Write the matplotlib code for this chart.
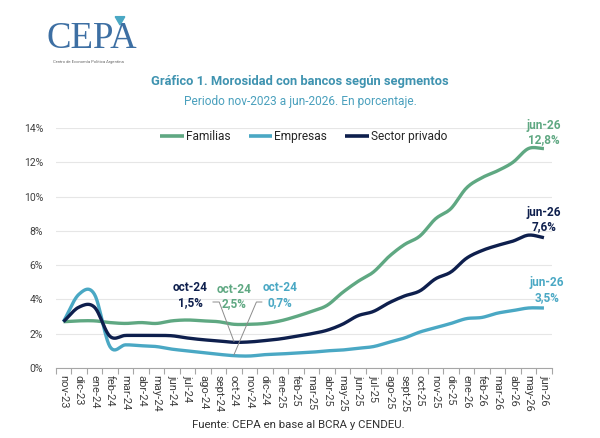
import numpy as np
import matplotlib
matplotlib.use("Agg")
import matplotlib.pyplot as plt

plt.rcParams['font.family'] = ['Roboto', 'DejaVu Sans']

months = ["nov-23", "dic-23", "ene-24", "feb-24", "mar-24", "abr-24", "may-24", "jun-24",
          "jul-24", "ago-24", "sept-24", "oct-24", "nov-24", "dic-24", "ene-25", "feb-25",
          "mar-25", "abr-25", "may-25", "jun-25", "jul-25", "ago-25", "sept-25", "oct-25",
          "nov-25", "dic-25", "ene-26", "feb-26", "mar-26", "abr-26", "may-26", "jun-26"]

familias = [2.7, 2.75, 2.75, 2.65, 2.6, 2.65, 2.6, 2.75, 2.8, 2.75, 2.7, 2.55, 2.55, 2.6,
            2.75, 3.0, 3.3, 3.65, 4.4, 5.05, 5.6, 6.5, 7.2, 7.7, 8.7, 9.3, 10.5, 11.1,
            11.5, 12.0, 12.8, 12.8]
empresas = [2.7, 4.3, 4.3, 1.25, 1.35, 1.3, 1.25, 1.1, 1.0, 0.9, 0.8, 0.72, 0.7, 0.78,
            0.82, 0.87, 0.92, 1.0, 1.05, 1.15, 1.25, 1.5, 1.75, 2.1, 2.35, 2.6, 2.88,
            2.95, 3.2, 3.35, 3.5, 3.5]
privado = [2.7, 3.55, 3.55, 1.85, 1.9, 1.9, 1.9, 1.88, 1.75, 1.65, 1.58, 1.5, 1.52, 1.6,
           1.7, 1.85, 2.0, 2.2, 2.55, 3.05, 3.3, 3.8, 4.2, 4.5, 5.2, 5.6, 6.4, 6.85,
           7.15, 7.4, 7.75, 7.6]

series_names = ["Familias", "Empresas", "Sector privado"]
yticks = [0, 2, 4, 6, 8, 10, 12, 14]

C_FAM = "#5fa882"
C_EMP = "#4aa8c4"
C_PRI = "#0e1f4d"


def smooth(y, n=12):
    """Catmull-Rom rendering of a series (Excel-style smoothed line)."""
    y = np.asarray(y, dtype=float)
    x = np.arange(len(y), dtype=float)
    p = np.concatenate([[2 * y[0] - y[1]], y, [2 * y[-1] - y[-2]]])
    xs, ys = [], []
    for i in range(len(y) - 1):
        p0, p1, p2, p3 = p[i], p[i + 1], p[i + 2], p[i + 3]
        t = np.linspace(0, 1, n, endpoint=False)
        v = 0.5 * ((2 * p1) + (-p0 + p2) * t + (2 * p0 - 5 * p1 + 4 * p2 - p3) * t ** 2
                   + (-p0 + 3 * p1 - 3 * p2 + p3) * t ** 3)
        xs.append(x[i] + t)
        ys.append(v)
    xs.append([x[-1]])
    ys.append([y[-1]])
    return np.concatenate(xs), np.concatenate(ys)


fig = plt.figure(figsize=(6, 4.38), dpi=100)
ax = fig.add_axes([0.0928, 0.1598, 0.8267, 0.548])

x = np.arange(len(months))
for vals, col, name in [(familias, C_FAM, series_names[0]),
                        (empresas, C_EMP, series_names[1]),
                        (privado, C_PRI, series_names[2])]:
    sx, sy = smooth(vals)
    ax.plot(sx, sy, color=col, lw=2.4, label=name, solid_capstyle='butt', zorder=3)

ax.set_xlim(-0.5, len(months) - 0.5)
ax.set_ylim(0, 14)
ax.set_yticks(yticks)
ax.set_yticklabels([f"{v}%" for v in yticks], fontsize=7.5, color="#404040")
ax.tick_params(axis='y', length=0, pad=9)
ax.grid(axis='y', color="#e6e6e6", lw=0.8, zorder=0)
ax.set_axisbelow(True)

ax.set_xticks(x)
ax.set_xticklabels(months, rotation=-90, fontsize=8, color="#404040")
ax.set_xticks(np.arange(-0.5, len(months), 1), minor=True)
ax.tick_params(axis='x', which='major', length=0, pad=5)
ax.tick_params(axis='x', which='minor', length=4, color="#a6a6a6", width=0.8)
for s in ['top', 'right', 'left']:
    ax.spines[s].set_visible(False)
ax.spines['bottom'].set_color("#a6a6a6")
ax.spines['bottom'].set_linewidth(0.8)

leg = ax.legend(loc='upper center', bbox_to_anchor=(0.5, 1.035), ncol=3, frameon=False,
                fontsize=8.6, handlelength=2.0, handletextpad=0.15, columnspacing=1.5,
                labelcolor="#262626")
for h in leg.get_lines():
    h.set_linewidth(2.6)

# oct-24 annotations
i_oct = months.index("oct-24")
ax.text(8.2, 4.25, "oct-24\n1,5%", color=C_PRI, fontsize=8.5, fontweight='bold',
        ha='center', va='center', linespacing=1.15)
ax.text(11.0, 4.15, "oct-24\n2,5%", color=C_FAM, fontsize=8.5, fontweight='bold',
        ha='center', va='center', linespacing=1.15)
ax.text(13.95, 4.25, "oct-24\n0,7%", color=C_EMP, fontsize=8.5, fontweight='bold',
        ha='center', va='center', linespacing=1.15)
ax.plot([9.65, 10.05, i_oct], [3.85, 3.85, privado[i_oct] + 0.05], color="#8c8c8c", lw=0.7, zorder=4)
ax.plot([12.8, 12.45, i_oct], [3.85, 3.85, empresas[i_oct] + 0.05], color="#8c8c8c", lw=0.7, zorder=4)

# jun-26 annotations
ax.text(31.0, 13.75, "jun-26\n12,8%", color=C_FAM, fontsize=8.5, fontweight='bold',
        ha='center', va='center', linespacing=1.15)
ax.text(31.0, 8.65, "jun-26\n7,6%", color=C_PRI, fontsize=8.5, fontweight='bold',
        ha='center', va='center', linespacing=1.15)
ax.text(31.2, 4.55, "jun-26\n3,5%", color=C_EMP, fontsize=8.5, fontweight='bold',
        ha='center', va='center', linespacing=1.15)

# titles
fig.text(0.5, 0.8128, "Gráfico 1. Morosidad con bancos según segmentos", ha='center',
         va='center', fontsize=9.3, fontweight='bold', color="#3f93b0")
fig.text(0.5, 0.7694, "Periodo nov-2023 a jun-2026. En porcentaje.", ha='center',
         va='center', fontsize=8.6, color="#4aa0bd")
fig.text(0.497, 0.030, "Fuente: CEPA en base al BCRA y CENDEU.", ha='center',
         va='center', fontsize=8.2, color="#333333")

# logo
fig.text(0.078, 0.912, "CEPA", ha='left', va='center', fontsize=26.5,
         family='Liberation Serif', color="#3d6fa3")
fig.text(0.088, 0.858, "Centro de Economía Política Argentina", ha='left', va='center',
         fontsize=3, color="#666666")
fig.patches.append(plt.Polygon([[0.192, 0.962], [0.208, 0.962], [0.200, 0.943]],
                               closed=True, color="#4aa8c4", transform=fig.transFigure,
                               figure=fig))

fig.savefig("out.png", dpi=100, facecolor="white")
